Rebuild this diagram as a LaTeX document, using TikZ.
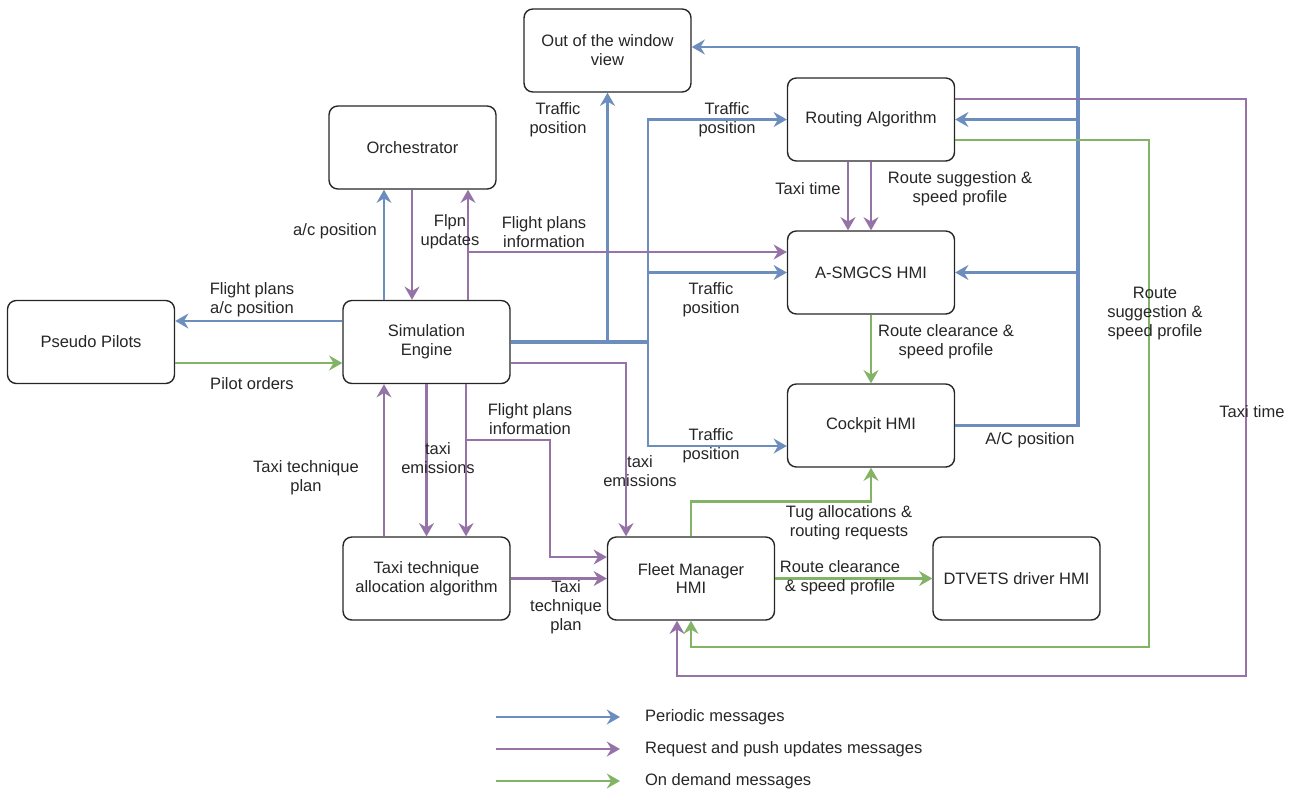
\documentclass[tikz,border=0pt]{standalone}
\usepackage{fontspec}
\setmainfont{Liberation Sans}
\usetikzlibrary{arrows.meta, calc}

\definecolor{perblue}{HTML}{6C8EBF}
\definecolor{reqpurple}{HTML}{9673A6}
\definecolor{demgreen}{HTML}{82B366}

\begin{document}
\begin{tikzpicture}[
    x=0.02cm, y=-0.02cm,
    >={Stealth[length=7.5pt, width=8.5pt, inset=2.5pt]},
    every node/.style={font=\fontsize{9.4}{10.8}\selectfont, text=black!85},
    blk/.style={draw=black!85, line width=0.8pt, rounded corners=5pt, fill=white,
        minimum width=3.34cm, minimum height=1.66cm, align=center},
    lbl/.style={align=center, inner sep=1pt},
    per/.style={->, draw=perblue, line width=1.4pt},
    perthk/.style={draw=perblue, line width=2pt},
    req/.style={->, draw=reqpurple, line width=1.4pt},
    dem/.style={->, draw=demgreen, line width=1.4pt}
]
    \useasboundingbox (0,0) rectangle (1297,791);

    % Nodes
    \node[blk] (otw)   at (607.5,50.5)  {Out of the window\\view};
    \node[blk] (orch)  at (412.5,147.5) {Orchestrator};
    \node[blk] (route) at (871,119.5)   {Routing Algorithm};
    \node[blk] (asm)   at (871,272.5)   {A-SMGCS HMI};
    \node[blk] (cock)  at (871,425.5)   {Cockpit HMI};
    \node[blk] (pp)    at (91,342)      {Pseudo Pilots};
    \node[blk] (sim)   at (426.5,342)   {Simulation\\Engine};
    \node[blk] (tta)   at (426.5,578.5) {Taxi technique\\allocation algorithm};
    \node[blk] (fm)    at (691,578.5)   {Fleet Manager\\HMI};
    \node[blk] (dtv)   at (1016.5,578.5){DTVETS driver HMI};

    % Bends and junctions
    \coordinate (tbus)  at (648,342);
    \coordinate (tbow)  at (607.5,342);
    \coordinate (acbus) at (1078,47);
    \coordinate (fpup)  at (468,252);
    \coordinate (fpdn)  at (466,440);
    \coordinate (fpfm)  at (550,557);
    \coordinate (ttbot) at (1246,676);
    \coordinate (rsbot) at (1149,647);

    % Periodic messages
    \draw[per] ($(sim.north)+(-42.5,0)$) -- ($(orch.south)+(-28.5,0)$)
        node[lbl] at (335,231) {a/c position};
    \draw[per] ($(sim.west)+(0,-21)$) -- ($(pp.east)+(0,-21)$)
        node[lbl] at (252,300) {Flight plans\\a/c position};
    \draw[perthk] (sim.east) -- (tbus);
    \draw[per] (tbow) -- (otw.south)
        node[lbl] at (558,120) {Traffic\\position};
    \draw[per] (tbus) |- (route.west)
        node[lbl] at (727,120) {Traffic\\position};
    \draw[per] (tbus) |- (asm.west)
        node[lbl] at (711,300) {Traffic\\position};
    \draw[per] (tbus) |- ($(cock.west)+(0,20.5)$)
        node[lbl] at (711,446) {Traffic\\position};
    \draw[perthk] (cock.east) -| (acbus);
    \draw[per] (acbus) -- (acbus -| otw.east);
    \draw[per] (route.east -| acbus) -- (route.east);
    \draw[per] (asm.east -| acbus) -- (asm.east);
    \node[lbl] (acpos) at (1030,440) {A/C position};

    % Request and push updates messages
    \draw[req] (orch.south -| 412,0) -- (sim.north -| 412,0);
    \draw[req] ($(sim.north)+(41.5,0)$) -- ($(orch.south)+(55.5,0)$)
        node[lbl] at (450,232) {Flpn\\updates};
    \draw[req] (fpup) -- (fpup -| asm.west)
        node[lbl] at (544,232) {Flight plans\\information};
    \draw[req] ($(route.south)+(-23,0)$) -- ($(asm.north)+(-23,0)$)
        node[lbl] at (808,189) {Taxi time};
    \draw[req] (route.south) -- (asm.north)
        node[lbl] at (960,189) {Route suggestion \&\\speed profile};
    \draw[req] (sim.south) -- (tta.north)
        node[lbl] at (438,458) {taxi\\emissions};
    \draw[req] ($(sim.south)+(39.5,0)$) -- ($(tta.north)+(39.5,0)$);
    \draw[req] (fpdn) -| (fpfm) -- (fpfm -| fm.west)
        node[lbl] at (530,419) {Flight plans\\information};
    \draw[req] ($(tta.north)+(-42.5,0)$) -- ($(sim.south)+(-42.5,0)$)
        node[lbl] at (306,478) {Taxi technique\\plan};
    \draw[req] ($(sim.east)+(0,21)$) -| ($(fm.north)+(-65,0)$)
        node[lbl] at (640,471) {taxi\\emissions};
    \draw[req] (tta.east) -- (fm.west)
        node[lbl] at (566,607) {Taxi\\technique\\plan};
    \draw[req] ($(route.east)+(0,-20.5)$) -| (ttbot) -| ($(fm.south)+(-14,0)$)
        node[lbl] at (1252,412) {Taxi time};

    % On demand messages
    \draw[dem] ($(pp.east)+(0,21)$) -- ($(sim.west)+(0,21)$)
        node[lbl] at (252,384) {Pilot orders};
    \draw[dem] (asm.south) -- (cock.north)
        node[lbl] at (946,342) {Route clearance \&\\speed profile};
    \draw[dem] (fm.north) -- ++(0,-35) -| (cock.south)
        node[lbl] at (849,523) {Tug allocations \&\\routing requests};
    \draw[dem] (fm.east) -- (dtv.west)
        node[lbl] at (840,578) {Route clearance\\\& speed profile};
    \draw[dem] ($(route.east)+(0,20.5)$) -| (rsbot) -| (fm.south)
        node[lbl] at (1155,314) {Route\\suggestion \&\\speed profile};

    % Legend
    \coordinate (leg1) at (496,717);
    \coordinate (leg2) at (496,749);
    \coordinate (leg3) at (496,781);
    \draw[per] (leg1) -- ++(124,0) node[anchor=west, xshift=0.36cm] {Periodic messages};
    \draw[req] (leg2) -- ++(124,0) node[anchor=west, xshift=0.36cm] {Request and push updates messages};
    \draw[dem] (leg3) -- ++(124,0) node[anchor=west, xshift=0.36cm] {On demand messages};

\end{tikzpicture}
\end{document}
